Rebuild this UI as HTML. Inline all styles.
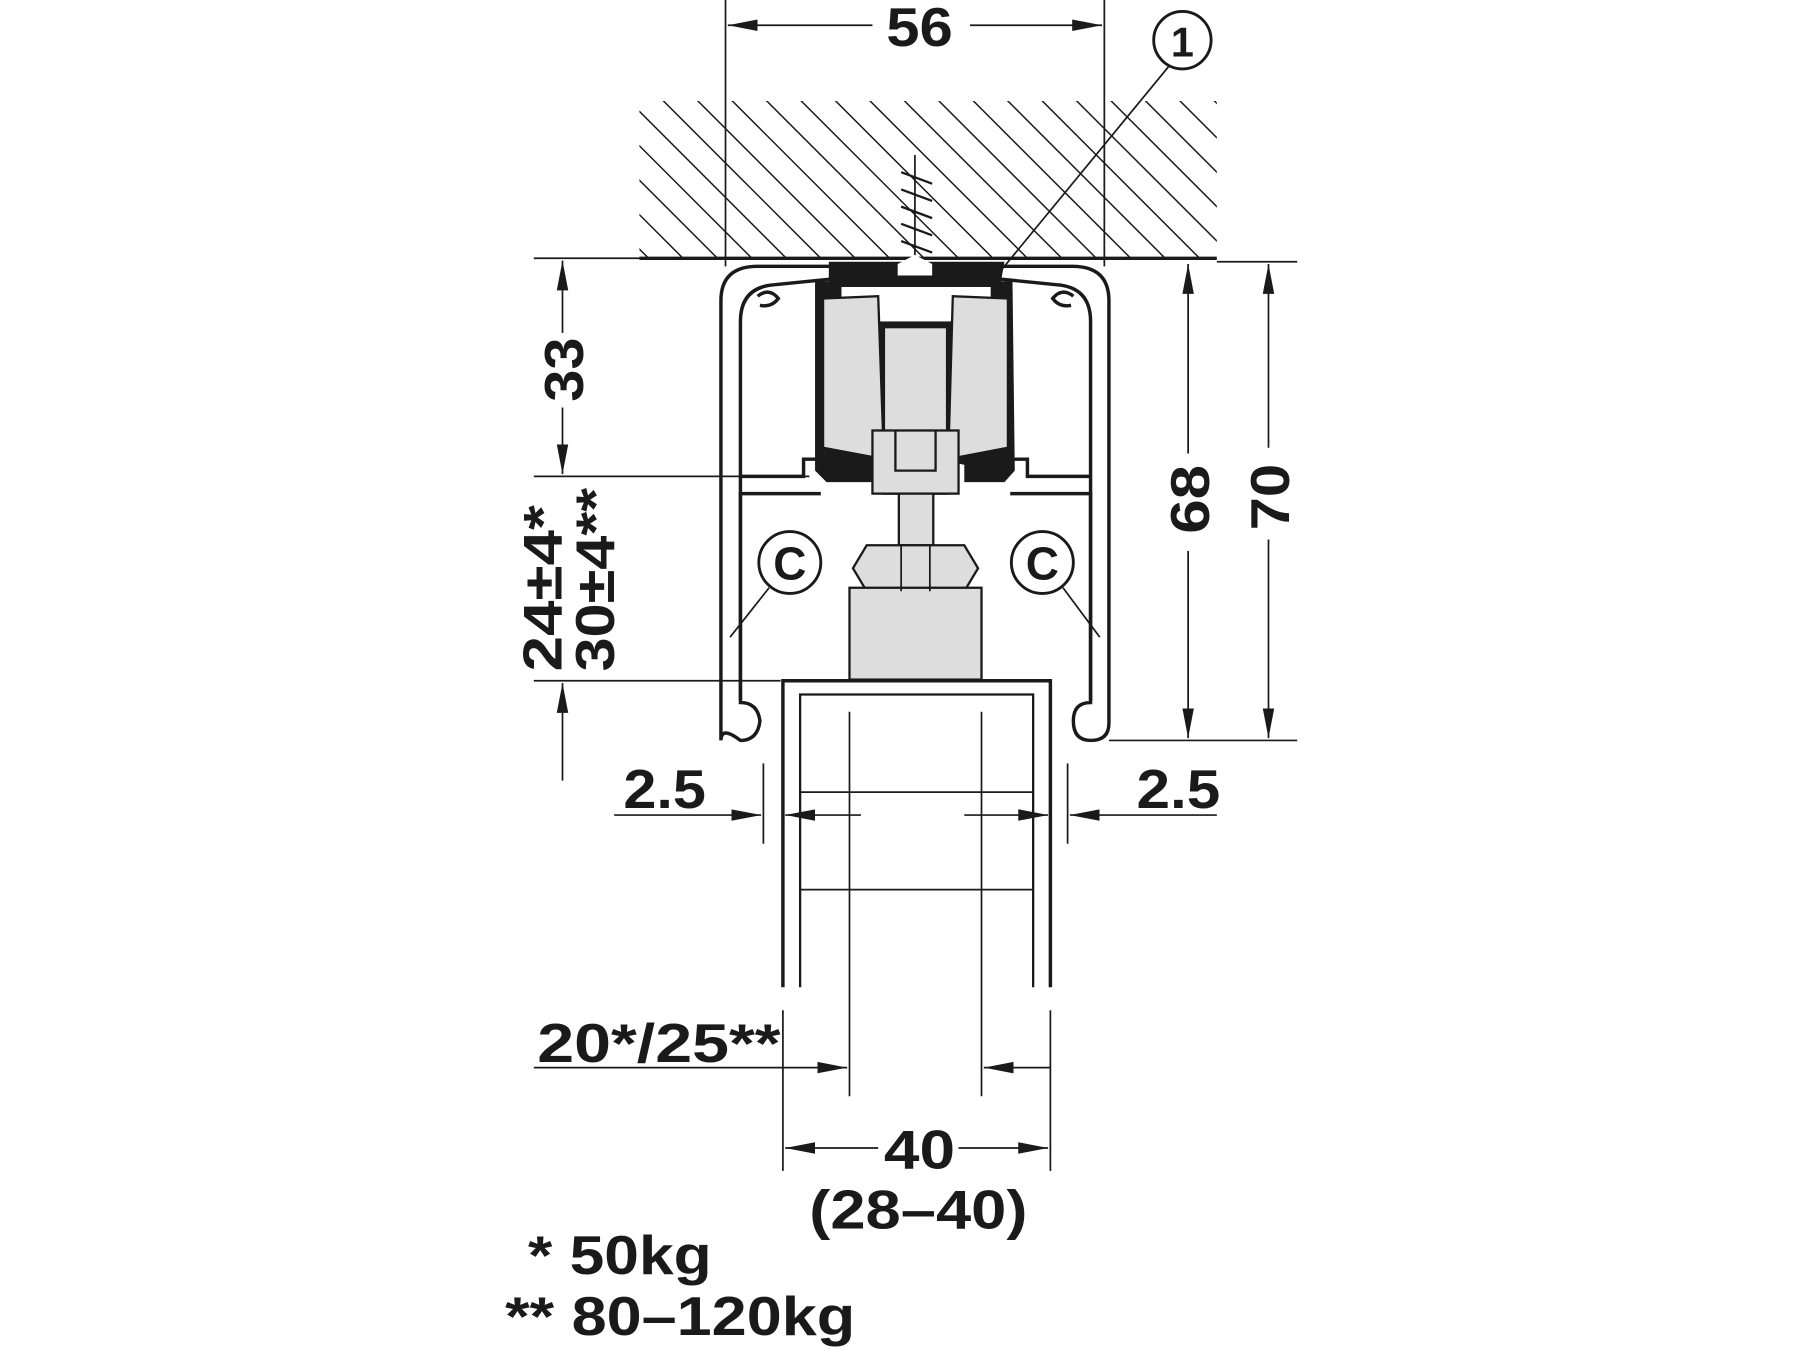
<!DOCTYPE html>
<html><head><meta charset="utf-8"><style>
html,body{margin:0;padding:0;background:#fff;width:1800px;height:1350px;overflow:hidden}
svg{display:block}
text{font-family:"Liberation Sans",sans-serif;font-weight:bold;fill:#1a1a1a}
</style></head><body>
<svg width="1800" height="1350" viewBox="0 0 1568 1176" xmlns="http://www.w3.org/2000/svg">
<defs>
<marker id="a" viewBox="0 0 26 12" refX="26" refY="6" markerWidth="26" markerHeight="12" markerUnits="userSpaceOnUse" orient="auto"><path d="M0,1 L26,6 L0,11 z" fill="#1a1a1a"/></marker>
<clipPath id="hc"><rect x="557" y="88" width="503" height="137"/></clipPath>
</defs>
<g stroke="#1a1a1a" fill="none" stroke-width="1.5">
<g clip-path="url(#hc)" stroke-width="1.3">
<path d="M400,60 L620,280 M430,60 L650,280 M460,60 L680,280 M490,60 L710,280 M520,60 L740,280 M550,60 L770,280 M580,60 L800,280 M610,60 L830,280 M640,60 L860,280 M670,60 L890,280 M700,60 L920,280 M730,60 L950,280 M760,60 L980,280 M790,60 L1010,280 M820,60 L1040,280 M850,60 L1070,280 M880,60 L1100,280 M910,60 L1130,280 M940,60 L1160,280 M970,60 L1190,280 M1000,60 L1220,280 M1030,60 L1250,280"/>
</g>
<line x1="557" y1="225" x2="1060" y2="225" stroke-width="3"/>
<line x1="1060" y1="228" x2="1130" y2="228"/>
<line x1="632" y1="0" x2="632" y2="232"/>
<line x1="962" y1="0" x2="962" y2="232"/>
<line x1="760" y1="22" x2="634" y2="22" marker-end="url(#a)"/>
<line x1="845" y1="22" x2="960" y2="22" marker-end="url(#a)"/>
<circle cx="1030" cy="35" r="25" stroke-width="2.5"/>
<line x1="1018" y1="58" x2="870" y2="238"/>
<line x1="797" y1="135" x2="797" y2="238"/>
<path d="M785,150 L812,160 M785,165 L812,175 M785,180 L812,190 M785,195 L812,205 M785,210 L812,220" stroke-width="2"/>
<path d="M628,645 L628,262 Q628,232 660,232 L934,232 Q966,232 966,262 L966,630 Q966,645 950,645 Q935,645 935,628 Q935,612 950,612 L950,280 Q950,250 920,248 L870,243 M628,645 Q628,632 645,645 Q660,645 662,628 Q660,612 645,612 L645,280 Q645,250 675,248 L725,243" stroke-width="3"/>
<path d="M645,415 L700,415 L700,400 L712,400 M950,415 L895,415 L895,400 L883,400" stroke-width="3"/>
<path d="M645,610 L645,430 L715,430 M950,610 L950,430 L880,430" stroke-width="3"/>
<path d="M660,258 q10,-8 18,2 q-6,8 -16,6 M935,258 q-10,-8 -18,2 q6,8 16,6" stroke-width="3"/>
</g>
<path d="M722,228 L875,228 L872,245 L882,245 L884,410 L875,420 L840,420 L840,405 L820,400 L775,400 L760,405 L760,420 L720,420 L710,410 L710,245 L722,245 z" fill="#1a1a1a"/>
<rect x="733" y="250" width="130" height="30" fill="#fff"/>
<g fill="#ddd" stroke="#1a1a1a" stroke-width="2">
<path d="M717,260 L765,258 L770,400 L717,390 z"/>
<path d="M878,260 L830,258 L826,400 L878,390 z"/>
<rect x="770" y="285" width="55" height="145"/>
<rect x="760" y="375" width="75" height="55"/>
</g>
<path d="M780,375 L780,410 L815,410 L815,375" fill="none" stroke="#1a1a1a" stroke-width="2"/>
<path d="M782,230 L797,222 L812,230 L812,240 L782,240 z" fill="#fff"/>
<g fill="#ddd" stroke="#1a1a1a" stroke-width="2">
<rect x="783" y="430" width="30" height="45"/>
<path d="M755,475 L840,475 L852,495 L840,515 L755,515 L743,495 z"/>
<rect x="740" y="512" width="115" height="80"/>
</g>
<g stroke="#1a1a1a" fill="none" stroke-width="1.5">
<path d="M785,475 L785,515 M810,475 L810,515" />
<path d="M682,860 L682,593 L915,593 L915,860" stroke-width="3"/>
<path d="M697,860 L697,605 L900,605 L900,860" stroke-width="2"/>
<path d="M740,620 L740,955 M855,620 L855,955 M697,690 L900,690 M697,775 L900,775"/>
<circle cx="688" cy="490" r="27" stroke-width="2.5"/>
<circle cx="908" cy="490" r="27" stroke-width="2.5"/>
<line x1="670" y1="512" x2="636" y2="555"/>
<line x1="926" y1="512" x2="958" y2="555"/>
<line x1="465" y1="225" x2="628" y2="225"/>
<line x1="465" y1="415" x2="705" y2="415"/>
<line x1="465" y1="593" x2="680" y2="593"/>
<line x1="490" y1="290" x2="490" y2="227" marker-end="url(#a)"/>
<line x1="490" y1="355" x2="490" y2="413" marker-end="url(#a)"/>
<line x1="490" y1="680" x2="490" y2="595" marker-end="url(#a)"/>
<line x1="966" y1="645" x2="1130" y2="645"/>
<line x1="1035" y1="395" x2="1035" y2="230" marker-end="url(#a)"/>
<line x1="1035" y1="480" x2="1035" y2="643" marker-end="url(#a)"/>
<line x1="1105" y1="390" x2="1105" y2="230" marker-end="url(#a)"/>
<line x1="1105" y1="470" x2="1105" y2="643" marker-end="url(#a)"/>
<line x1="665" y1="665" x2="665" y2="735"/>
<line x1="930" y1="665" x2="930" y2="735"/>
<line x1="535" y1="710" x2="663" y2="710" marker-end="url(#a)"/>
<line x1="750" y1="710" x2="684" y2="710" marker-end="url(#a)"/>
<line x1="840" y1="710" x2="913" y2="710" marker-end="url(#a)"/>
<line x1="1060" y1="710" x2="932" y2="710" marker-end="url(#a)"/>
<line x1="682" y1="880" x2="682" y2="1020"/>
<line x1="915" y1="880" x2="915" y2="1020"/>
<line x1="465" y1="930" x2="738" y2="930" marker-end="url(#a)"/>
<line x1="915" y1="930" x2="857" y2="930" marker-end="url(#a)"/>
<line x1="765" y1="1000" x2="684" y2="1000" marker-end="url(#a)"/>
<line x1="835" y1="1000" x2="913" y2="1000" marker-end="url(#a)"/>
</g>
<g font-size="48">
<text x="772" y="40" textLength="58" lengthAdjust="spacingAndGlyphs">56</text>
<text x="1030" y="49" text-anchor="middle" font-size="36">1</text>
<text x="688" y="505" text-anchor="middle" font-size="40">C</text>
<text x="908" y="505" text-anchor="middle" font-size="40">C</text>
<text transform="translate(508,350) rotate(-90)" textLength="56" lengthAdjust="spacingAndGlyphs">33</text>
<text transform="translate(489,585) rotate(-90)" textLength="145" lengthAdjust="spacingAndGlyphs">24±4*</text>
<text transform="translate(535,585) rotate(-90)" textLength="160" lengthAdjust="spacingAndGlyphs">30±4**</text>
<text transform="translate(1053,465) rotate(-90)" textLength="60" lengthAdjust="spacingAndGlyphs">68</text>
<text transform="translate(1123,462) rotate(-90)" textLength="58" lengthAdjust="spacingAndGlyphs">70</text>
<text x="543" y="704" textLength="72" lengthAdjust="spacingAndGlyphs">2.5</text>
<text x="990" y="704" textLength="73" lengthAdjust="spacingAndGlyphs">2.5</text>
<text x="468" y="925" textLength="212" lengthAdjust="spacingAndGlyphs">20*/25**</text>
<text x="770" y="1018" textLength="62" lengthAdjust="spacingAndGlyphs">40</text>
<text x="705" y="1070" textLength="190" lengthAdjust="spacingAndGlyphs">(28–40)</text>
<text x="460" y="1110" textLength="160" lengthAdjust="spacingAndGlyphs">* 50kg</text>
<text x="440" y="1163" textLength="305" lengthAdjust="spacingAndGlyphs">** 80–120kg</text>
</g>
</svg>
</body></html>
